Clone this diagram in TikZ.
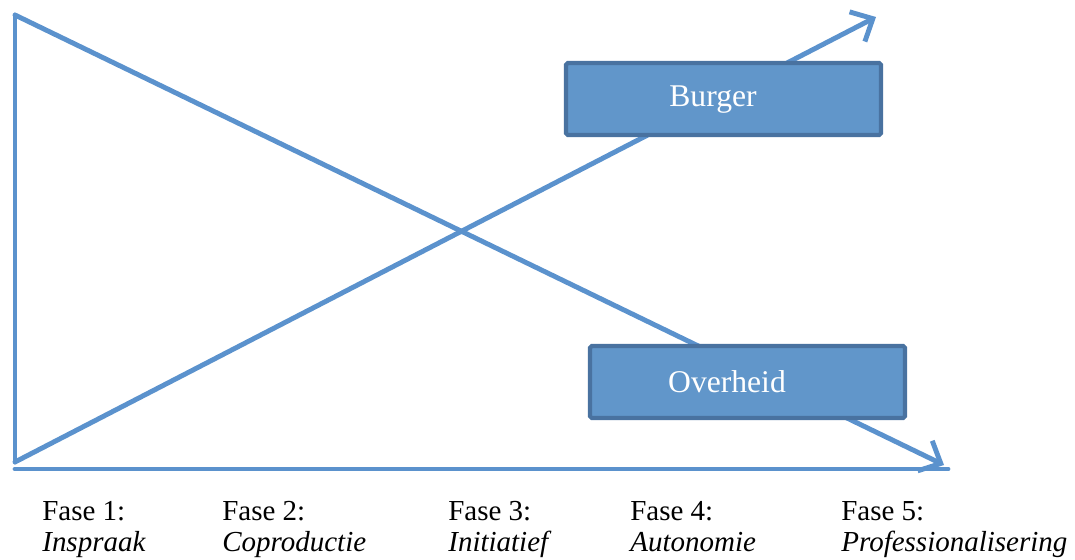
\documentclass[tikz,border=0pt]{standalone}
\usepackage{fontspec}
\setmainfont{Liberation Serif}[ItalicFont={Liberation Serif Italic}]
\usetikzlibrary{arrows.meta}

\definecolor{lijnkleur}{RGB}{91,146,205}
\definecolor{vakkleur}{RGB}{97,150,202}
\definecolor{randkleur}{RGB}{73,114,160}

\begin{document}
\begin{tikzpicture}[x=0.02cm,y=-0.02cm,
    lijn/.style={draw=lijnkleur,line width=2.8pt,line cap=round,line join=round},
    pijl/.style={lijn,-{Straight Barb[length=10pt,width=19pt,line width=2.8pt]}},
    vak/.style={draw=randkleur,fill=vakkleur,line width=2.4pt,rounded corners=1pt},
    vaktekst/.style={text=white,font=\fontsize{18}{20}\selectfont},
    fase/.style={anchor=north west,align=left,inner sep=0pt,font=\fontsize{16.5}{17.5}\selectfont}]

\useasboundingbox (0,0) rectangle (1075,559);

% hoekpunten van de assen
\coordinate (boven) at (15,15);
\coordinate (oorsprong) at (15,462);
\coordinate (aseinde) at (948,469);
\coordinate (asbegin) at (15,469);
\coordinate (burgerpunt) at (876,17);
\coordinate (overheidpunt) at (944,465);

% assen
\draw[lijn] (boven) -- (oorsprong);
\draw[lijn] (asbegin) -- (aseinde);

% de twee lijnen
\draw[pijl] (boven) -- (overheidpunt);
\draw[pijl] (oorsprong) -- (burgerpunt);

% vakken
\draw[vak] (566,63) rectangle (881,135);
\node[vaktekst] (burger) at (713,100) {Burger};
\draw[vak] (590,346) rectangle (905,418);
\node[vaktekst] (overheid) at (727,382) {Overheid};

% fasen onder de as
\foreach \x/\i/\naam in {43/1/Inspraak, 223/2/Coproductie, 449/3/Initiatief, 631/4/Autonomie, 842/5/Professionalisering} {
    \node[fase] (fase\i) at (\x-1,501) {Fase \i:\\\textit{\naam}};
}

\end{tikzpicture}
\end{document}
